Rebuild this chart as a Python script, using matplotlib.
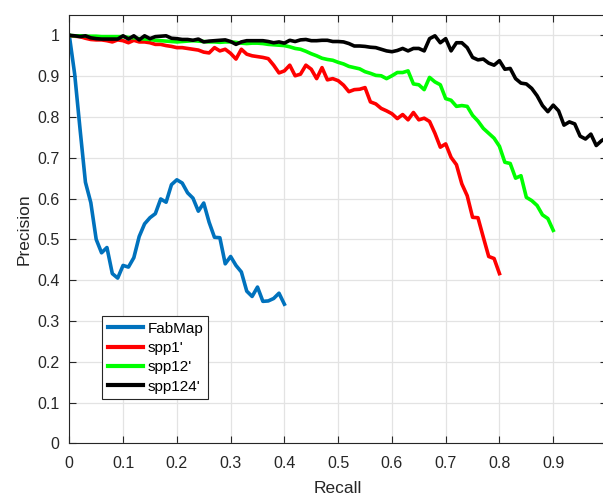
import numpy as np
import matplotlib
matplotlib.use('Agg')
import matplotlib.pyplot as plt
from matplotlib.ticker import FormatStrFormatter

# precision values sampled every 0.01 recall
fabmap = [1.0, 0.905, 0.77, 0.64, 0.59, 0.50, 0.467, 0.48, 0.416, 0.405,
          0.436, 0.432, 0.455, 0.507, 0.538, 0.553, 0.563, 0.599, 0.591, 0.634,
          0.646, 0.638, 0.614, 0.601, 0.569, 0.589, 0.542, 0.505, 0.504, 0.440,
          0.458, 0.436, 0.420, 0.373, 0.360, 0.383, 0.348, 0.349, 0.355, 0.368,
          0.341]

spp1 = [1.0, 0.998, 0.997, 0.993, 0.990, 0.989, 0.989, 0.987, 0.984, 0.989,
        0.987, 0.982, 0.988, 0.984, 0.984, 0.982, 0.978, 0.978, 0.975, 0.973,
        0.970, 0.970, 0.968, 0.966, 0.964, 0.959, 0.957, 0.970, 0.962, 0.966,
        0.956, 0.942, 0.966, 0.954, 0.950, 0.948, 0.946, 0.943, 0.927, 0.908,
        0.913, 0.927, 0.901, 0.905, 0.927, 0.917, 0.894, 0.921, 0.891, 0.894,
        0.889, 0.878, 0.862, 0.867, 0.868, 0.872, 0.837, 0.832, 0.821, 0.815,
        0.808, 0.796, 0.806, 0.793, 0.811, 0.793, 0.797, 0.789, 0.760, 0.726,
        0.734, 0.701, 0.683, 0.636, 0.607, 0.554, 0.553, 0.505, 0.458, 0.453,
        0.416]

spp12 = [1.0, 0.999, 0.999, 0.998, 0.998, 0.998, 0.997, 0.997, 0.997, 0.997,
         0.997, 0.995, 0.994, 0.992, 0.991, 0.990, 0.988, 0.987, 0.986, 0.985,
         0.984, 0.985, 0.986, 0.987, 0.986, 0.985, 0.984, 0.984, 0.983, 0.984,
         0.984, 0.983, 0.981, 0.980, 0.981, 0.981, 0.980, 0.978, 0.977, 0.976,
         0.975, 0.972, 0.968, 0.966, 0.961, 0.955, 0.950, 0.944, 0.941, 0.939,
         0.934, 0.930, 0.924, 0.921, 0.918, 0.911, 0.907, 0.902, 0.901, 0.894,
         0.901, 0.909, 0.909, 0.913, 0.881, 0.879, 0.867, 0.897, 0.886, 0.879,
         0.845, 0.841, 0.826, 0.828, 0.826, 0.804, 0.790, 0.772, 0.760, 0.748,
         0.728, 0.689, 0.686, 0.650, 0.656, 0.603, 0.595, 0.583, 0.560, 0.551,
         0.522]

spp124 = [1.0, 0.999, 0.997, 0.999, 0.994, 0.992, 0.991, 0.991, 0.991, 0.991,
          0.999, 0.991, 0.999, 0.989, 0.999, 0.992, 0.997, 0.998, 0.999, 0.993,
          0.992, 0.990, 0.990, 0.988, 0.991, 0.984, 0.986, 0.987, 0.988, 0.989,
          0.985, 0.978, 0.984, 0.987, 0.987, 0.987, 0.987, 0.985, 0.982, 0.984,
          0.981, 0.988, 0.985, 0.989, 0.990, 0.987, 0.987, 0.988, 0.988, 0.985,
          0.985, 0.984, 0.980, 0.974, 0.974, 0.973, 0.971, 0.970, 0.966, 0.962,
          0.960, 0.963, 0.968, 0.962, 0.968, 0.968, 0.962, 0.992, 0.999, 0.982,
          0.992, 0.962, 0.982, 0.982, 0.970, 0.946, 0.940, 0.942, 0.932, 0.927,
          0.938, 0.917, 0.919, 0.894, 0.883, 0.881, 0.870, 0.852, 0.828, 0.813,
          0.829, 0.815, 0.780, 0.788, 0.783, 0.753, 0.746, 0.758, 0.730, 0.742,
          0.750]

labels = ['FabMap', "spp1'", "spp12'", "spp124'"]
colors = ['#0072BD', '#FF0000', '#00FF00', '#000000']

plt.rcParams['font.family'] = ['Liberation Sans', 'DejaVu Sans']

fig = plt.figure(figsize=(6.03, 4.95), dpi=100)
ax = fig.add_axes([69.3 / 603, 1 - 443.3 / 495, (607 - 69.3) / 603, (443.3 - 15) / 495])

for series, lab, col in zip([fabmap, spp1, spp12, spp124], labels, colors):
    recall = np.arange(len(series)) / 100
    ax.plot(recall, series, color=col, lw=2.6, label=lab, solid_joinstyle='round')

ax.set_xlim(0, 1)
ax.set_ylim(0, 1.05)
ax.set_xticks(np.arange(0, 1.0, 0.1))
ax.set_yticks(np.arange(0, 1.01, 0.1))
ax.xaxis.set_major_formatter(FormatStrFormatter('%g'))
ax.yaxis.set_major_formatter(FormatStrFormatter('%g'))
ax.grid(True, color='#e3e3e3', lw=0.9)
ax.set_axisbelow(True)
ax.tick_params(direction='in', top=True, right=True, length=5, width=0.8,
               labelsize=11.5, colors='#262626')
ax.tick_params(axis='x', pad=9)
ax.tick_params(axis='y', pad=7)
for s in ax.spines.values():
    s.set_color('#262626')
    s.set_linewidth(0.8)

ax.set_xlabel('Recall', fontsize=12.5, color='#262626', labelpad=7)
ax.set_ylabel('Precision', fontsize=12.5, color='#262626', labelpad=4)

leg = ax.legend(loc='lower left', bbox_to_anchor=(0.0614, 0.1034), fontsize=11,
                fancybox=False, framealpha=1, edgecolor='#262626', borderpad=0.35,
                handlelength=2.3, handletextpad=0.3, labelspacing=0.35, borderaxespad=0)
leg.get_frame().set_linewidth(0.8)
for h in leg.get_lines():
    h.set_linewidth(3)

fig.savefig('out.png', dpi=100)
